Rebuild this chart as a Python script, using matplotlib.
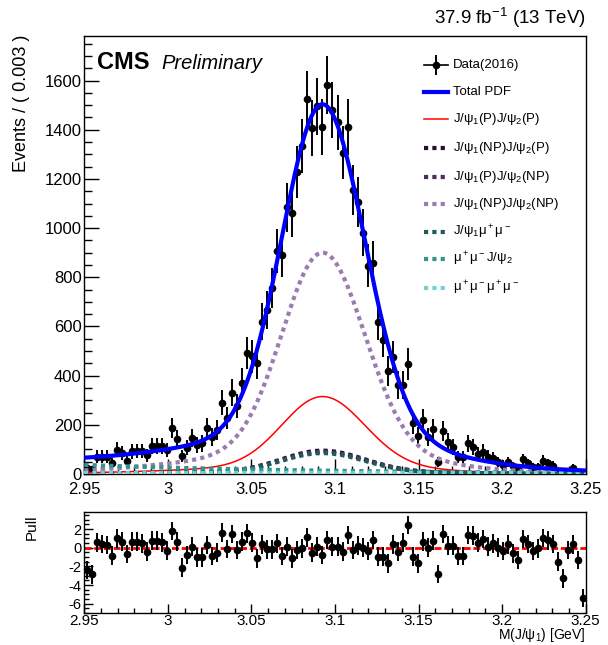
import numpy as np
import matplotlib

matplotlib.use("Agg")
import matplotlib.pyplot as plt
from matplotlib.ticker import MultipleLocator

plt.rcParams["font.family"] = ["Liberation Sans", "DejaVu Sans"]
plt.rcParams["mathtext.fontset"] = "custom"
plt.rcParams["mathtext.rm"] = "Liberation Sans"
plt.rcParams["mathtext.it"] = "Liberation Sans:italic"
plt.rcParams["mathtext.bf"] = "Liberation Sans:bold"
plt.rcParams["axes.unicode_minus"] = False

# binning of M(J/psi_1): 100 bins of 3 MeV
X_LO, X_HI, N_BINS = 2.95, 3.25, 100

# weighted events per bin
counts = [
    23, 20, 71, 71, 71, 45, 99, 86, 53, 92,
    94, 94, 76, 114, 114, 114, 98, 186, 141, 73,
    107, 145, 118, 125, 186, 152, 179, 290, 227, 331,
    277, 372, 491, 478, 451, 620, 668, 756, 908, 892,
    1084, 1061, 1227, 1333, 1523, 1407, 1496, 1411, 1581, 1480,
    1430, 1306, 1411, 1156, 1106, 982, 847, 860, 620, 546,
    419, 475, 360, 362, 448, 206, 155, 220, 152, 183,
    48, 176, 132, 111, 68, 68, 125, 111, 81, 91,
    71, 64, 50, 37, 48, 33, 23, 60, 43, 30,
    30, 54, 43, 34, 9, 3, 9, 26, 9, 1,
]
count_err = [
    14, 13, 25, 25, 25, 20, 30, 28, 22, 29,
    29, 29, 26, 32, 32, 32, 30, 41, 36, 26,
    31, 36, 33, 34, 41, 37, 40, 51, 45, 55,
    50, 58, 66, 66, 64, 75, 78, 82, 90, 90,
    99, 98, 105, 110, 117, 113, 116, 113, 119, 115,
    113, 108, 113, 102, 100, 94, 87, 88, 75, 70,
    61, 65, 57, 57, 64, 43, 37, 44, 37, 41,
    21, 40, 34, 32, 25, 25, 34, 32, 27, 29,
    25, 24, 21, 18, 21, 17, 14, 23, 20, 16,
    16, 22, 20, 17, 9, 5, 9, 15, 9, 3,
]
pulls = [
    -2.38, -2.84, 0.57, 0.39, 0.29, -0.85, 1.00, 0.64, -0.67, 0.64,
    0.64, 0.47, -0.43, 0.75, 0.75, 0.57, -0.32, 1.81, 0.64, -2.13,
    -0.78, 0.11, -1.02, -1.02, 0.29, -0.89, -0.53, 1.60, -0.14, 1.48,
    -0.25, 0.64, 1.53, 0.53, -1.13, 0.36, -0.17, -0.17, 0.47, -0.89,
    0.11, -1.13, -0.25, -0.07, 1.10, -0.53, 0.11, -0.78, 0.82, 0.11,
    0.11, -0.43, 1.35, -0.25, 0.21, 0.00, -0.35, 0.82, -0.96, -0.96,
    -1.67, 0.36, -0.43, 0.53, 2.42, -0.96, -1.67, 0.64, 0.00, 0.75,
    -2.80, 1.46, 0.21, 0.21, -0.89, -0.89, 1.35, 1.28, 0.53, 0.92,
    0.11, 0.47, 0.00, -0.35, 0.36, -0.60, -1.32, 0.92, 0.39, -0.35,
    -0.07, 1.03, 0.78, 0.39, -1.49, -3.27, -0.25, 0.36, -1.32, -5.40,
]

# fit result: J/psi line shape (bifurcated core + wide tail)
MASS_MEAN = 3.0925
CORE_SIGMA = (0.024, 0.025)
TAIL_SIGMA = (0.075, 0.060)
TAIL_FRAC = 0.10

# component heights at the peak / at the low edge (events / 0.003)
peak_pp = 315
peak_np_p = 95
peak_p_np = 90
peak_np_np = 900
peak_jpsi_mumu = 85
mumu_jpsi_norm = 37
mumu_jpsi_slope = -7.0
mumu_mumu_level = 5

labels = [
    "Data(2016)",
    "Total PDF",
    "J/ψ$_1$(P)J/ψ$_2$(P)",
    "J/ψ$_1$(NP)J/ψ$_2$(P)",
    "J/ψ$_1$(P)J/ψ$_2$(NP)",
    "J/ψ$_1$(NP)J/ψ$_2$(NP)",
    "J/ψ$_1$μ$^+$μ$^-$",
    "μ$^+$μ$^-$J/ψ$_2$",
    "μ$^+$μ$^-$μ$^+$μ$^-$",
]


def bifur(x, mu, sl, sr):
    s = np.where(x < mu, sl, sr)
    return np.exp(-0.5 * ((x - mu) / s) ** 2)


def jpsi_shape(x):
    core = bifur(x, MASS_MEAN, *CORE_SIGMA)
    tail = bifur(x, MASS_MEAN, *TAIL_SIGMA)
    return (1 - TAIL_FRAC) * core + TAIL_FRAC * tail


width = (X_HI - X_LO) / N_BINS
centers = np.linspace(X_LO + width / 2, X_HI - width / 2, N_BINS)
xs = np.linspace(X_LO, X_HI, 800)
shape = jpsi_shape(xs)

comps = [
    (peak_pp * shape, "#ff0000", "solid", 1.1),
    (peak_np_p * shape, "#2a0b36", "dot", 3.0),
    (peak_p_np * shape, "#4e2c62", "dot", 3.0),
    (peak_np_np * shape, "#9a7cb0", "dot", 3.0),
    (peak_jpsi_mumu * shape, "#1f5c58", "dot", 3.0),
    (mumu_jpsi_norm * np.exp(mumu_jpsi_slope * (xs - X_LO)), "#33948f", "dot", 3.0),
    (np.full_like(xs, mumu_mumu_level), "#6fd3d3", "dot", 3.0),
]
total = sum(c[0] for c in comps)

W, H = 608, 645
fig = plt.figure(figsize=(W / 100, H / 100), dpi=100)
ax = fig.add_axes([84.3 / W, 1 - 474 / H, 501.4 / W, 437.7 / H])
axp = fig.add_axes([84.3 / W, 1 - 613 / H, 501.4 / W, 100.7 / H])

# main panel
ax.errorbar(centers, counts, yerr=count_err, fmt="o", color="black",
            ms=4.5, elinewidth=1.4, capsize=0, zorder=3)
for y, col, ls, lw in comps:
    if ls == "dot":
        ax.plot(xs, y, color=col, lw=lw, linestyle=(0, (1, 1)),
                dash_capstyle="butt", zorder=4)
    else:
        ax.plot(xs, y, color=col, lw=lw, zorder=4)
ax.plot(xs, total, color="#0000ff", lw=3.0, zorder=5)

ax.set_xlim(X_LO, X_HI)
ax.set_ylim(0, 1780)
ax.xaxis.set_major_locator(MultipleLocator(0.05))
ax.xaxis.set_minor_locator(MultipleLocator(0.01))
ax.yaxis.set_major_locator(MultipleLocator(200))
ax.yaxis.set_minor_locator(MultipleLocator(50))
ax.xaxis.set_major_formatter(plt.FuncFormatter(lambda v, p: f"{v:g}"))
ax.tick_params(which="both", direction="in", top=False, right=False, labelsize=12)
ax.tick_params(which="major", length=10.5, width=1.0)
ax.tick_params(which="minor", length=5.5, width=1.0)
ax.tick_params(axis="x", pad=6)
ax.tick_params(axis="y", pad=2)
for sp in ax.spines.values():
    sp.set_linewidth(1.0)

fig.text(21 / W, 1 - 35 / H, "Events / ( 0.003 )", rotation=90,
         ha="center", va="top", fontsize=13)
fig.text(585.7 / W, 1 - 24 / H, "37.9 fb$^{-1}$ (13 TeV)", ha="right",
         va="baseline", fontsize=13.5)
fig.text(96.7 / W, 1 - 69 / H, "CMS", fontsize=17, fontweight="bold",
         va="baseline")
fig.text(161 / W, 1 - 69 / H, "Preliminary", fontsize=14.5, style="italic",
         va="baseline")

# legend, drawn entry by entry
x0, x1, xt = 424 / W, 448.3 / W, 452.7 / W
rows = [65, 91.7, 119.3, 148.3, 176.7, 204, 231.7, 259.3, 287.7]
styles = [("#0000ff", "solid", 3.0)] + [(c, ls, lw) for _, c, ls, lw in comps]
for i, (lab, py) in enumerate(zip(labels, rows)):
    yy = 1 - py / H
    if i == 0:
        fig.lines.append(plt.Line2D([x0, x1], [yy, yy], color="black", lw=1.2,
                                    transform=fig.transFigure))
        fig.lines.append(plt.Line2D([(x0 + x1) / 2] * 2, [yy - 9 / H, yy + 9 / H],
                                    color="black", lw=1.4, transform=fig.transFigure))
        fig.lines.append(plt.Line2D([(x0 + x1) / 2], [yy], marker="o", ms=4.5,
                                    color="black", transform=fig.transFigure))
    else:
        col, ls, lw = styles[i - 1]
        kw = dict(linestyle=(0, (1, 1)), dash_capstyle="butt") if ls == "dot" else {}
        fig.lines.append(plt.Line2D([x0, x1], [yy, yy], color=col, lw=lw,
                                    transform=fig.transFigure, **kw))
    fig.text(xt, yy, lab, fontsize=9.5, va="center", ha="left")

# pull panel
axp.axhline(0, color="#ff0000", lw=2.0, linestyle=(0, (2.5, 1)), zorder=2)
axp.errorbar(centers, pulls, yerr=1.0, fmt="o", color="black", ms=4.5,
             elinewidth=1.4, capsize=0, zorder=3)
axp.set_xlim(X_LO, X_HI)
axp.set_ylim(-7, 3.8)
axp.xaxis.set_major_locator(MultipleLocator(0.05))
axp.xaxis.set_minor_locator(MultipleLocator(0.01))
axp.yaxis.set_major_locator(MultipleLocator(2))
axp.yaxis.set_minor_locator(MultipleLocator(0.5))
axp.xaxis.set_major_formatter(plt.FuncFormatter(lambda v, p: f"{v:g}"))
axp.tick_params(which="both", direction="in", top=False, right=False)
axp.tick_params(axis="x", labelsize=11, pad=0.5)
axp.tick_params(axis="y", labelsize=10.5, pad=2)
axp.tick_params(which="major", length=6.5, width=1.0)
axp.tick_params(which="minor", length=3.5, width=1.0)
for sp in axp.spines.values():
    sp.set_linewidth(1.0)
fig.text(32 / W, 1 - 514 / H, "Pull", rotation=90, ha="center", va="top",
         fontsize=11)
fig.text(585.7 / W, 1 - 644.5 / H, "M(J/ψ$_1$) [GeV]", ha="right",
         va="bottom", fontsize=10)

fig.savefig("out.png", dpi=100)
